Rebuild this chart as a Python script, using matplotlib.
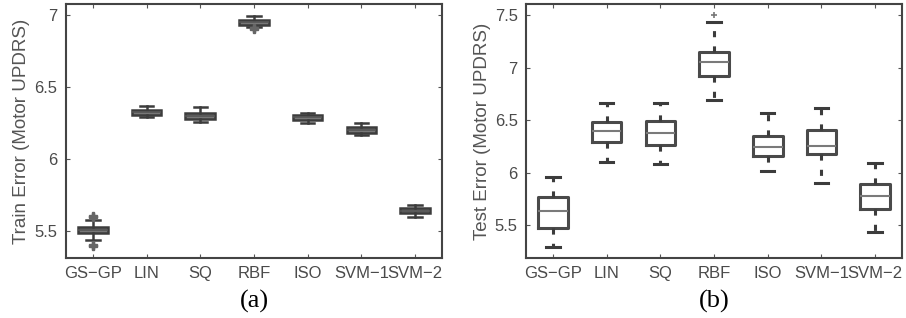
"""
Boxplots of train / test error (Motor UPDRS) for seven models.
"""

import numpy as np
import matplotlib
matplotlib.use('Agg')
import matplotlib.pyplot as plt

plt.rcParams['font.family'] = ['Liberation Sans', 'DejaVu Sans']

modelos = ['GS\u2212GP', 'LIN', 'SQ', 'RBF', 'ISO', 'SVM\u22121', 'SVM\u22122']

# (a) erro de treino
treino_whislo = [5.44, 6.288, 6.253, 6.918, 6.25, 6.163, 5.60]
treino_q1 = [5.485, 6.305, 6.28, 6.93, 6.27, 6.182, 5.623]
treino_med = [5.508, 6.322, 6.30, 6.948, 6.288, 6.20, 5.642]
treino_q3 = [5.53, 6.34, 6.32, 6.965, 6.305, 6.218, 5.66]
treino_whishi = [5.575, 6.364, 6.357, 6.993, 6.315, 6.246, 5.682]
treino_fliers = [[5.395, 5.405, 5.595, 5.605], [], [], [6.90, 6.905], [], [], []]

# (b) erro de teste
teste_whislo = [5.288, 6.097, 6.084, 6.69, 6.017, 5.897, 5.436]
teste_q1 = [5.471, 6.288, 6.262, 6.919, 6.157, 6.176, 5.652]
teste_med = [5.636, 6.398, 6.379, 7.052, 6.246, 6.256, 5.776]
teste_q3 = [5.764, 6.484, 6.49, 7.151, 6.348, 6.405, 5.89]
teste_whishi = [5.96, 6.659, 6.659, 7.433, 6.57, 6.611, 6.088]
teste_fliers = [[], [], [], [7.50], [], [], []]


def montar_stats(whislo, q1, med, q3, whishi, fliers):
    stats = []
    for i in range(len(modelos)):
        stats.append({'whislo': whislo[i], 'q1': q1[i], 'med': med[i],
                      'q3': q3[i], 'whishi': whishi[i],
                      'fliers': np.array(fliers[i]), 'label': modelos[i]})
    return stats


def estilo_eixo(ax, ylim, yticks, ylabel):
    ax.set_xlim(0.5, 7.5)
    ax.set_ylim(*ylim)
    ax.set_yticks(yticks)
    ax.set_yticklabels([f'{t:g}' for t in yticks])
    ax.set_ylabel(ylabel, fontsize=13.5, color='#555555', labelpad=3)
    ax.tick_params(direction='in', length=3, width=0.8, colors='#555555',
                   labelcolor='#4a4a4a', labelsize=12, top=True, right=True, pad=6)
    for s in ax.spines.values():
        s.set_color('#444444')
        s.set_linewidth(1.5)


fig = plt.figure(figsize=(9.06, 3.18), dpi=100)
ax1 = fig.add_axes([0.0728, 0.1887, 0.4151, 0.7987])
ax2 = fig.add_axes([0.5806, 0.1887, 0.4150, 0.7987])

pos = np.arange(1, len(modelos) + 1)

ax1.bxp(montar_stats(treino_whislo, treino_q1, treino_med, treino_q3,
                     treino_whishi, treino_fliers),
        positions=pos, widths=0.55, patch_artist=True,
        boxprops=dict(facecolor='#777777', edgecolor='#3c3c3c', linewidth=1.8),
        medianprops=dict(color='#555555', linewidth=1.2),
        whiskerprops=dict(color='#3c3c3c', linewidth=1.8),
        capprops=dict(color='#3c3c3c', linewidth=1.8),
        capwidths=0.25,
        flierprops=dict(marker='P', markersize=6, markerfacecolor='#666666',
                        markeredgecolor='#666666'))
estilo_eixo(ax1, (5.313, 7.074), [5.5, 6, 6.5, 7], 'Train Error (Motor UPDRS)')

ax2.bxp(montar_stats(teste_whislo, teste_q1, teste_med, teste_q3,
                     teste_whishi, teste_fliers),
        positions=pos, widths=0.55,
        boxprops=dict(color='#4a4a4a', linewidth=2.2),
        medianprops=dict(color='#7a7a7a', linewidth=1.5),
        whiskerprops=dict(color='#3c3c3c', linewidth=2.2, linestyle=(0, (2, 3))),
        capprops=dict(color='#3c3c3c', linewidth=2.2),
        capwidths=0.25,
        flierprops=dict(marker='+', markersize=5, markeredgecolor='#777777',
                        markeredgewidth=1.2))
estilo_eixo(ax2, (5.186, 7.605), [5.5, 6, 6.5, 7, 7.5], 'Test Error (Motor UPDRS)')

for ax in (ax1, ax2):
    ax.set_xticks(pos)
    ax.set_xticklabels(modelos)

fig.text(0.2803, 0.052, '(a)', ha='center', va='center',
         fontsize=19, family='Liberation Serif')
fig.text(0.7881, 0.052, '(b)', ha='center', va='center',
         fontsize=19, family='Liberation Serif')

fig.savefig('out.png', dpi=100)
